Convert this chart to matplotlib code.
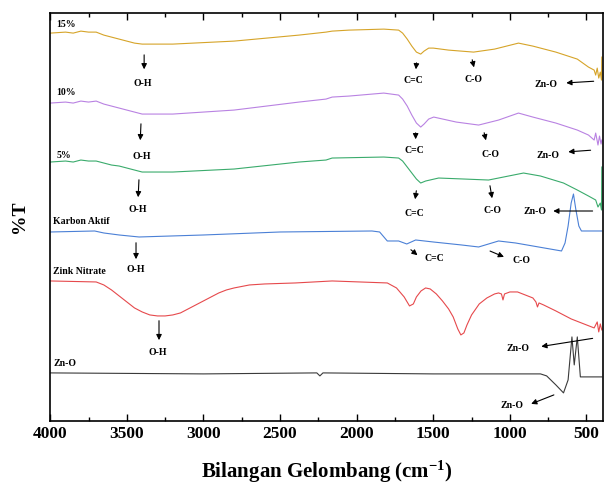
import matplotlib.pyplot as plt
from matplotlib.ticker import MultipleLocator

plt.rcParams['font.family'] = ['Liberation Serif', 'DejaVu Serif']
plt.rcParams['font.weight'] = 'bold'
plt.rcParams['mathtext.fontset'] = 'custom'
plt.rcParams['mathtext.rm'] = 'Liberation Serif:bold'
plt.rcParams['mathtext.default'] = 'rm'

# spectra (wavenumber cm-1, %T in arbitrary offset units)
wn_15 = [4000, 3900, 3850, 3800, 3750, 3700, 3650, 3600, 3550, 3500, 3450, 3400, 3200, 2800,
         2377, 2200, 2160, 2050, 1823, 1726, 1700, 1670, 1640, 1610, 1582, 1560,
         1530, 1500, 1400, 1237, 1100, 944, 850, 700, 560, 487, 450, 440, 430, 420, 410, 402, 400]
t_15 = [388, 389, 388, 390, 389, 389, 386, 384, 382, 380, 378, 377, 377, 380,
        386, 389, 390, 391, 392, 391, 388, 382, 375, 369, 367, 370,
        373, 373, 371, 369, 372, 378, 375, 369, 362, 354, 351, 346, 353, 343, 349, 341, 364]

wn_10 = [4000, 3900, 3850, 3800, 3750, 3700, 3650, 3600, 3550, 3500, 3450, 3400, 3200, 2800,
         2377, 2200, 2160, 2050, 1823, 1726, 1700, 1670, 1640, 1610, 1582, 1560, 1530,
         1497, 1350, 1204, 1074, 944, 850, 700, 560, 487, 450, 440, 425, 415, 405, 400]
t_10 = [318, 319, 318, 320, 319, 320, 317, 315, 313, 311, 309, 307, 307, 311,
        319, 322, 324, 325, 328, 326, 322, 315, 306, 298, 294, 297, 302,
        304, 299, 296, 301, 308, 304, 298, 291, 286, 281, 288, 276, 285, 277, 281]

wn_5 = [4000, 3900, 3850, 3800, 3750, 3700, 3650, 3600, 3550, 3500, 3450, 3400, 3200, 2800,
        2377, 2200, 2160, 1823, 1726, 1700, 1670, 1640, 1610, 1582, 1550, 1465,
        1300, 1139, 911, 800, 650, 560, 487, 440, 425, 410, 402, 400]
t_5 = [259, 260, 259, 261, 260, 260, 258, 256, 255, 253, 251, 249, 249, 252,
       259, 261, 263, 264, 263, 260, 254, 248, 242, 238, 240, 243,
       242, 241, 248, 245, 238, 231, 225, 221, 214, 218, 211, 254]

wn_ka = [4000, 3710, 3650, 3550, 3420, 3000, 2500, 1900, 1850, 1800, 1726, 1673, 1615, 1500,
         1315, 1204, 1074, 963, 663, 640, 620, 600, 585, 570, 550, 533, 400]
t_ka = [189, 190, 188, 186, 184, 186, 189, 190, 189, 180, 180, 177, 181, 179,
        176, 174, 180, 178, 170, 178, 195, 218, 227, 212, 195, 190, 190]

wn_zn_nit = [4000, 3700, 3650, 3600, 3550, 3500, 3450, 3400, 3350, 3300, 3250, 3200, 3150, 3100,
             3050, 3000, 2950, 2900, 2850, 2800, 2700, 2600, 2400, 2160, 1800, 1740, 1690, 1655,
             1630, 1610, 1580, 1550, 1520, 1480, 1440, 1400, 1370, 1340, 1320, 1300, 1280, 1250,
             1200, 1150, 1100, 1074, 1055, 1045, 1035, 1000, 950, 900, 850, 830, 820, 810, 780,
             700, 600, 500, 450, 430, 420, 410, 400]
t_zn_nit = [140, 139, 136, 131, 125, 119, 113, 109, 106, 105, 105, 106, 108, 112,
            116, 120, 124, 128, 131, 133, 136, 137, 138, 140, 138, 133, 124, 115,
            117, 124, 130, 133, 132, 127, 120, 112, 104, 92, 86, 88, 96, 106,
            117, 123, 127, 128, 127, 121, 127, 129, 129, 126, 123, 119, 114, 118, 116,
            110, 102, 96, 93, 99, 89, 97, 91]

wn_zno = [4000, 3000, 2260, 2240, 2220, 1500, 800, 760, 700, 650, 620, 595, 580, 560, 540, 400]
t_zno = [48, 47, 48, 45, 48, 47, 47, 45, 36, 28, 41, 84, 56, 84, 44, 44]

series = [
    ('15%', wn_15, t_15, '#d6a429', (3962, 397)),
    ('10%', wn_10, t_10, '#b982e2', (3962, 329)),
    ('5%', wn_5, t_5, '#3aab6c', (3956, 266)),
    ('Karbon Aktif', wn_ka, t_ka, '#4b80d6', (3980, 199)),
    ('Zink Nitrate', wn_zn_nit, t_zn_nit, '#e6494c', (3980, 149)),
    ('Zn-O', wn_zno, t_zno, '#3a3a3a', (3980, 57)),
]

# band labels: text, arrow tail, arrow head, text position
bands = [
    ('O-H', (3387, 369), (3387, 349), (3395, 338)),
    ('C=C', (1608, 361), (1615, 349), (1628, 341)),
    ('C-O', (1250, 364), (1230, 351), (1237, 342)),
    ('Zn-O', (435, 340), (650, 338), (767, 337)),
    ('O-H', (3407, 300), (3413, 278), (3400, 265)),
    ('C=C', (1615, 291), (1615, 279), (1621, 271)),
    ('C-O', (1172, 291), (1152, 278), (1126, 267)),
    ('Zn-O', (455, 271), (637, 269), (748, 266)),
    ('O-H', (3420, 244), (3427, 221), (3427, 212)),
    ('C=C', (1608, 233), (1621, 219), (1621, 208)),
    ('C-O', (1133, 238), (1113, 220), (1113, 211)),
    ('Zn-O', (442, 210), (735, 210), (833, 210)),
    ('O-H', (3440, 181), (3440, 159), (3440, 151)),
    ('C=C', (1660, 173), (1589, 164), (1491, 162)),
    ('C-O', (1146, 171), (1022, 163), (924, 160)),
    ('O-H', (3290, 103), (3290, 78), (3296, 68)),
    ('Zn-O', (442, 83), (813, 74), (950, 72)),
    ('Zn-O', (696, 27), (878, 16), (983, 15)),
]

fig, ax = plt.subplots(figsize=(6.05, 4.86), dpi=100)
fig.subplots_adjust(left=0.083, right=0.996, bottom=0.134, top=0.973)

for name, wn, t, color, lpos in series:
    ax.plot(wn, t, color=color, lw=0.8)
    ax.text(lpos[0], lpos[1], name, fontsize=7, fontweight='bold', ha='left', va='center')

for label, tail, head, tpos in bands:
    ax.annotate('', xy=head, xytext=tail,
                arrowprops=dict(arrowstyle='-|>', color='black', lw=0.8, mutation_scale=8))
    ax.text(tpos[0], tpos[1], label, fontsize=7, fontweight='bold', ha='center', va='center')

ax.set_xlim(4000, 395)
ax.set_ylim(0, 408)
ax.xaxis.set_major_locator(MultipleLocator(500))
ax.xaxis.set_minor_locator(MultipleLocator(250))
ax.set_yticks([])
ax.tick_params(axis='x', which='both', direction='in', top=True, labelsize=12.5, width=1)
ax.tick_params(axis='x', which='major', length=5)
ax.tick_params(axis='x', which='minor', length=3)
for lab in ax.get_xticklabels():
    lab.set_fontweight('bold')
for sp in ax.spines.values():
    sp.set_linewidth(1.2)

ax.set_xlabel('Bilangan Gelombang (cm$^{-1}$)', fontsize=15, fontweight='bold', labelpad=12)
ax.set_ylabel('%T', fontsize=14, fontweight='bold', labelpad=16)

fig.savefig('out.png', dpi=100)
